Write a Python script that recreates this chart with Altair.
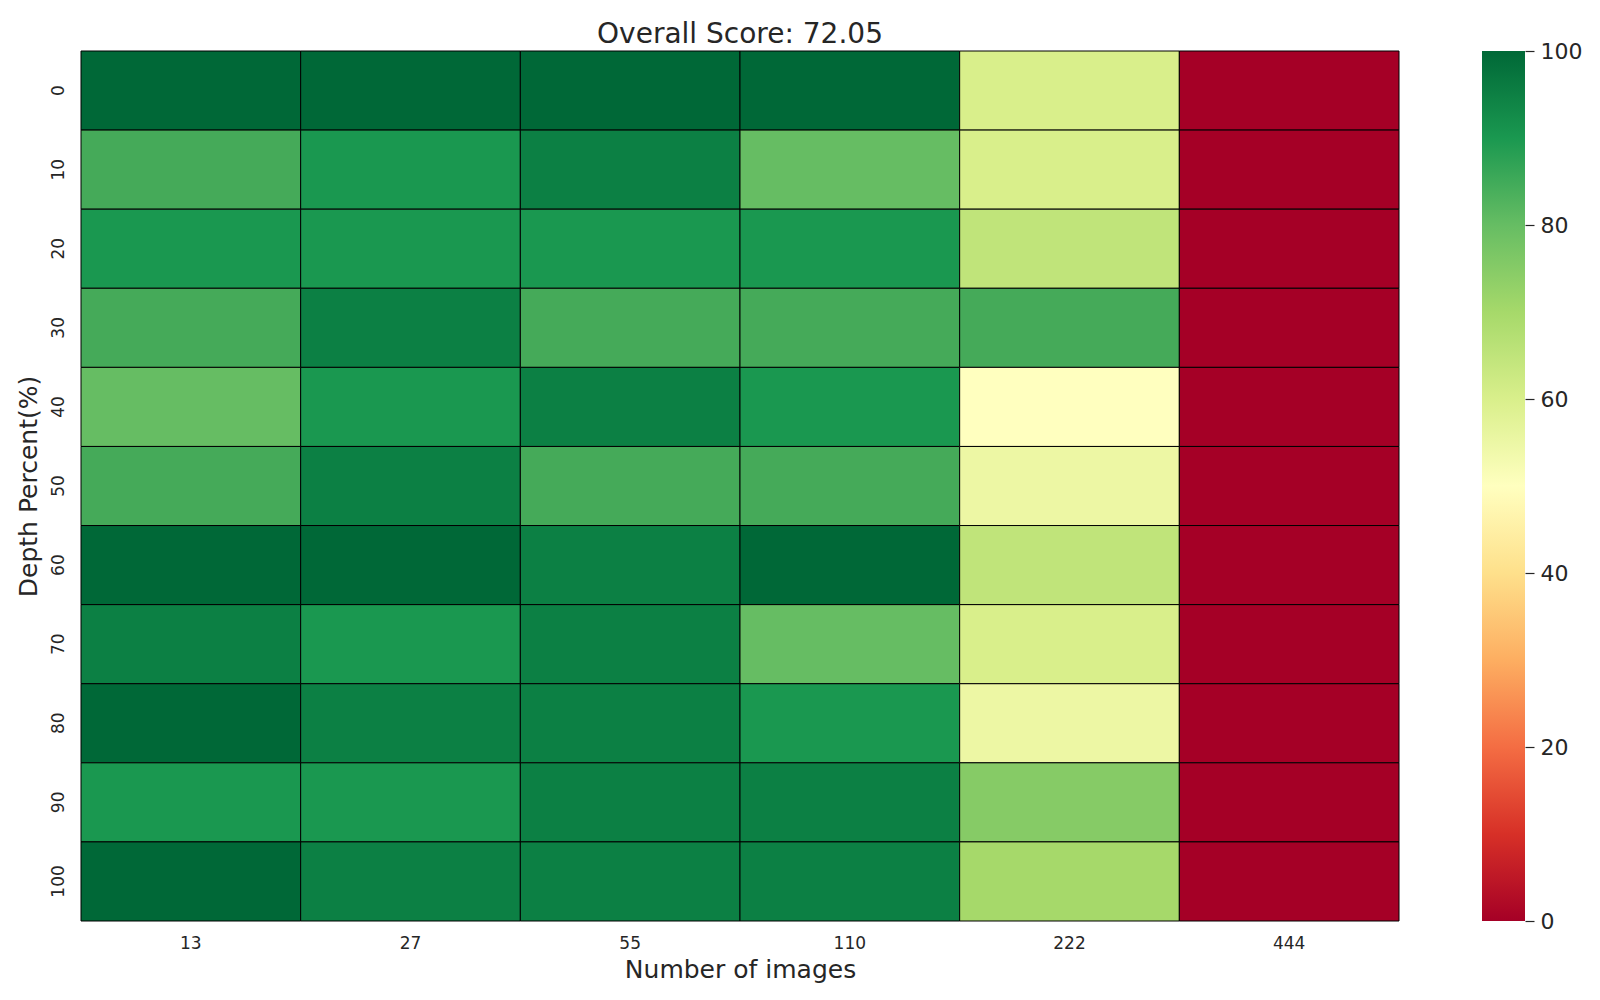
import altair as alt
import pandas as pd

depths = [0, 10, 20, 30, 40, 50, 60, 70, 80, 90, 100]
images = ["13", "27", "55", "110", "222", "444"]

score_13 = [100, 85, 90, 85, 80, 85, 100, 95, 100, 90, 100]
score_27 = [100, 90, 90, 95, 90, 95, 100, 90, 95, 90, 95]
score_55 = [100, 95, 90, 85, 95, 85, 95, 95, 95, 95, 95]
score_110 = [100, 80, 90, 85, 90, 85, 100, 80, 90, 95, 95]
score_222 = [60, 60, 65, 85, 50, 55, 65, 60, 55, 75, 70]
score_444 = [0, 0, 0, 0, 0, 0, 0, 0, 0, 0, 0]

title_text = "Overall Score: 72.05"
colorbar_ticks = [0, 20, 40, 60, 80, 100]
colorbar_lo = [0]
colorbar_hi = [100]

rdylgn = ["#a50026", "#d73027", "#f46d43", "#fdae61", "#fee08b", "#ffffbf",
          "#d9ef8b", "#a6d96a", "#66bd63", "#1a9850", "#006837"]
stops = [0, 10, 20, 30, 40, 50, 60, 70, 80, 90, 100]

cols = [score_13, score_27, score_55, score_110, score_222, score_444]
rows = []
for img, col in zip(images, cols):
    for d, s in zip(depths, col):
        rows.append({"images": img, "depth": d, "score": s})
df = pd.DataFrame(rows)
cb_df = pd.DataFrame({"lo": colorbar_lo, "hi": colorbar_hi})

FONT = "DejaVu Sans"
TXT = "#262626"

heat = alt.Chart(df).mark_rect(stroke="black", strokeWidth=1).encode(
    x=alt.X("images:N", sort=images, title="Number of images",
            scale=alt.Scale(paddingInner=0, paddingOuter=0),
            axis=alt.Axis(labelAngle=0, ticks=False, tickSize=0, domain=False,
                          labelFontSize=17, labelPadding=14, labelColor=TXT,
                          labelFont=FONT, titleFont=FONT, titleFontSize=25,
                          titleFontWeight="normal", titleColor=TXT, titlePadding=6)),
    y=alt.Y("depth:O", sort=depths, title="Depth Percent(%)",
            scale=alt.Scale(paddingInner=0, paddingOuter=0),
            axis=alt.Axis(labelAngle=270, ticks=False, tickSize=0, domain=False,
                          labelFontSize=17, labelPadding=14, labelColor=TXT,
                          labelFont=FONT, titleFont=FONT, titleFontSize=25,
                          titleFontWeight="normal", titleColor=TXT, titlePadding=8)),
    color=alt.Color("score:Q", scale=alt.Scale(domain=stops, range=rdylgn), legend=None),
).properties(
    width=1318, height=870,
    title=alt.TitleParams(title_text, font=FONT, fontSize=28, fontWeight="normal",
                          color=TXT, anchor="middle", baseline="alphabetic", offset=-20),
)

grad = alt.Gradient(
    gradient="linear",
    stops=[alt.GradientStop(color=c, offset=s / 100) for c, s in zip(rdylgn, stops)],
    x1=0, x2=0, y1=1, y2=0,
)

colorbar = alt.Chart(cb_df).mark_rect(color=grad).encode(
    y=alt.Y("lo:Q", scale=alt.Scale(domain=[0, 100], nice=False, zero=False),
            axis=alt.Axis(orient="right", values=colorbar_ticks, title=None, grid=False,
                          domain=False, tickSize=9, tickWidth=1.2, tickColor=TXT,
                          labelFontSize=22, labelFont=FONT, labelColor=TXT,
                          labelPadding=6, labelOverlap=False, labelFlush=False)),
    y2="hi:Q",
    x=alt.value(0), x2=alt.value(43),
).properties(width=43, height=870)

chart = alt.hconcat(heat, colorbar, spacing=83, bounds="flush").properties(
    padding={"left": 7, "top": 12, "right": 5, "bottom": 5},
).configure_view(stroke=None)

chart.save("out.html", embed_options={"renderer": "svg", "actions": False})
